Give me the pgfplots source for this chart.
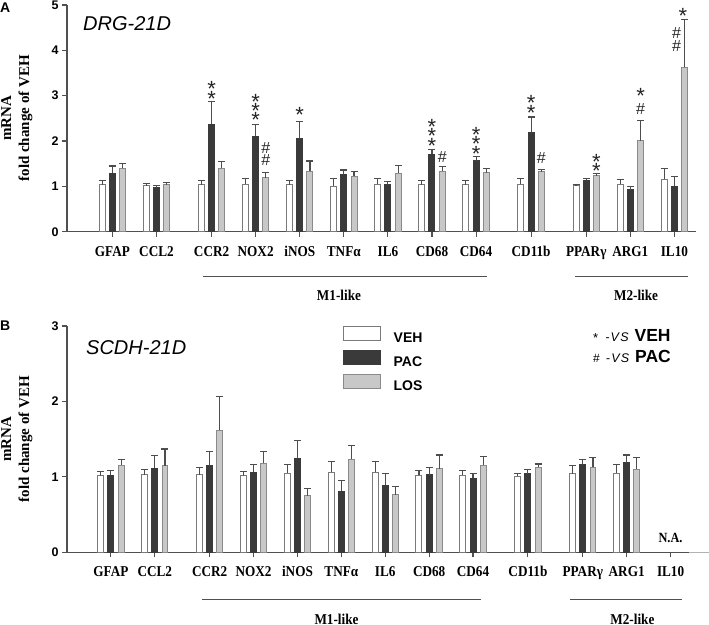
\documentclass[border=0pt]{standalone}
\usepackage{fontspec}
\setmainfont{Liberation Sans}
\newfontfamily\catfont{Liberation Serif}[FakeStretch=0.88]
\newfontfamily\labfont{Liberation Serif}
\usepackage{pgfplots}
\pgfplotsset{compat=1.18}
\definecolor{axisgray}{HTML}{505050}
\definecolor{pacfill}{HTML}{3A3A3A}
\definecolor{losfill}{HTML}{C8C8C8}
\definecolor{vehline}{HTML}{7A7A7A}
\definecolor{losline}{HTML}{8A8A8A}
\definecolor{errc}{HTML}{4D4D4D}
\pgfplotsset{
  mybase/.style={
    scale only axis, clip=false,
    ymin=0,
    axis x line=bottom, axis y line=left,
    axis line style={-, draw=axisgray, line width=1.3pt},
    tick align=outside, major tick length=5pt,
    tick style={draw=axisgray, line width=1.1pt},
    xtick={0,1,2.25,3.25,4.25,5.25,6.25,7.25,8.25,9.5,10.75,11.75,12.75},
    xticklabels={GFAP,CCL2,CCR2,NOX2,iNOS,TNFα,IL6,CD68,CD64,CD11b,PPARγ,ARG1,IL10},
    xticklabel style={font=\catfont\bfseries\fontsize{15}{15}\selectfont, anchor=base, yshift=-19.5pt},
    yticklabel style={font=\bfseries\fontsize{12.5}{12.5}\selectfont},
    /pgf/number format/assume math mode=true,
    ylabel={mRNA\\fold change of VEH},
    ylabel style={font=\labfont\bfseries\fontsize{15}{18}\selectfont, align=center, anchor=south, inner sep=0pt},
    error bars/y dir=plus, error bars/y explicit,
    error bars/error bar style={line width=1.1pt, draw=errc},
    error bars/error mark options={rotate=90, mark size=3.5pt, line width=1.1pt, draw=errc},
  },
  veh/.style={ybar, bar width=0.135, bar shift=0, fill=white, draw=vehline, line width=1pt},
  pac/.style={ybar, bar width=0.135, bar shift=0, fill=pacfill, draw=pacfill, line width=1pt},
  los/.style={ybar, bar width=0.135, bar shift=0, fill=losfill, draw=losline, line width=1pt},
  star/.style={forget plot, only marks, mark=text, text mark={*}, text mark as node=true, color=black!85,
    text mark style={font=\fontsize{22}{22}\selectfont, anchor=base, yshift=-12.6pt, inner sep=0pt}},
  hash/.style={forget plot, only marks, mark=text, text mark={\#}, text mark as node=true, color=black!85,
    text mark style={font=\fontsize{16}{16}\selectfont, anchor=center, inner sep=0pt}},
}
\begin{document}
\begin{tikzpicture}
\path[use as bounding box] (0,0) rectangle (709pt,624pt);
% ---------------- Panel A ----------------
\begin{axis}[mybase, at={(67pt,392.3pt)}, anchor=south west,
  width=629pt, height=226.7pt, xmin=-1.03, xmax=13.24, ymax=5, ytick={0,1,2,3,4,5},
  ylabel style={at={(axis description cs:-0.0545,0.5)}}]
\addplot[veh] coordinates {
 (-0.232,1.04) +- (0,0.09) (0.768,1.01) +- (0,0.05) (2.018,1.03) +- (0,0.09)
 (3.018,1.05) +- (0,0.12) (4.018,1.03) +- (0,0.09) (5.018,1.00) +- (0,0.18)
 (6.018,1.05) +- (0,0.13) (7.018,1.03) +- (0,0.10) (8.018,1.03) +- (0,0.10)
 (9.268,1.05) +- (0,0.13) (10.518,1.01) +- (0,0.03) (11.518,1.05) +- (0,0.10)
 (12.518,1.16) +- (0,0.23)};
\addplot[pac] coordinates {
 (0,1.29) +- (0,0.16) (1,0.97) +- (0,0.05) (2.25,2.37) +- (0,0.50)
 (3.25,2.11) +- (0,0.26) (4.25,2.05) +- (0,0.38) (5.25,1.26) +- (0,0.10)
 (6.25,1.04) +- (0,0.06) (7.25,1.71) +- (0,0.11) (8.25,1.57) +- (0,0.08)
 (9.5,2.18) +- (0,0.35) (10.75,1.14) +- (0,0.04) (11.75,0.92) +- (0,0.07)
 (12.75,1.00) +- (0,0.22)};
\addplot[los] coordinates {
 (0.232,1.40) +- (0,0.11) (1.232,1.03) +- (0,0.05) (2.482,1.40) +- (0,0.14)
 (3.482,1.19) +- (0,0.11) (4.482,1.33) +- (0,0.23) (5.482,1.22) +- (0,0.10)
 (6.482,1.29) +- (0,0.17) (7.482,1.33) +- (0,0.10) (8.482,1.30) +- (0,0.09)
 (9.732,1.32) +- (0,0.06) (10.982,1.23) +- (0,0.05) (11.982,2.01) +- (0,0.45)
 (12.982,3.63) +- (0,1.05)};
\addplot[star] coordinates {
 (2.25,3.03) (2.25,3.27)
 (3.25,2.57) (3.25,2.77) (3.25,2.98)
 (4.25,2.68)
 (7.25,2.01) (7.25,2.22) (7.25,2.43)
 (8.25,1.83) (8.25,2.04) (8.25,2.24)
 (9.5,2.74) (9.5,2.94)
 (10.982,1.46) (10.982,1.65)
 (11.982,3.11)
 (12.94,4.87)};
\addplot[hash] coordinates {
 (3.482,1.58) (3.482,1.85)
 (7.482,1.65)
 (9.732,1.62)
 (11.982,2.71)
 (12.80,4.10) (12.80,4.375)};
\draw[line width=1pt, draw=axisgray] ([yshift=-45pt]axis cs:2.06,0) -- ([yshift=-45pt]axis cs:8.50,0);
\draw[line width=1pt, draw=axisgray] ([yshift=-45pt]axis cs:10.49,0) -- ([yshift=-45pt]axis cs:13.06,0);
\node[font=\catfont\bfseries\fontsize{15}{15}\selectfont] at ([yshift=-64pt]axis cs:5.14,0) {M1-like};
\node[font=\catfont\bfseries\fontsize{15}{15}\selectfont] at ([yshift=-64pt]axis cs:11.88,0) {M2-like};
\end{axis}
% ---------------- Panel B ----------------
\begin{axis}[mybase, at={(67pt,71.7pt)}, anchor=south west,
  width=622pt, height=226.3pt, xmin=-1.0, xmax=13.17, ymax=3, ytick={0,1,2,3},
  ylabel style={at={(axis description cs:-0.0551,0.5)}},
  legend style={at={(axis description cs:0.4437,1.0)}, anchor=north west, draw=none, fill=none,
    inner sep=0pt, outer sep=0pt, row sep=6pt, column sep=12.7pt, nodes={inner sep=0pt},
    font=\bfseries\fontsize{14}{14}\selectfont},
  legend cell align=left,
  legend image code/.code={\draw[#1] (0pt,-2pt) rectangle (37pt,12pt);}]
\addplot[veh] coordinates {
 (-0.232,1.015) +- (0,0.055) (0.768,1.03) +- (0,0.07) (2.018,1.03) +- (0,0.09)
 (3.018,1.015) +- (0,0.055) (4.018,1.05) +- (0,0.115) (5.018,1.06) +- (0,0.14)
 (6.018,1.06) +- (0,0.14) (7.018,1.02) +- (0,0.07) (8.018,1.02) +- (0,0.06)
 (9.268,1.01) +- (0,0.03) (10.518,1.04) +- (0,0.11) (11.518,1.05) +- (0,0.115)};
\addlegendentry{VEH}
\addplot[pac] coordinates {
 (0,1.02) +- (0,0.07) (1,1.116) +- (0,0.164) (2.25,1.15) +- (0,0.19)
 (3.25,1.06) +- (0,0.10) (4.25,1.25) +- (0,0.23) (5.25,0.81) +- (0,0.14)
 (6.25,0.89) +- (0,0.15) (7.25,1.03) +- (0,0.09) (8.25,0.98) +- (0,0.07)
 (9.5,1.04) +- (0,0.06) (10.75,1.16) +- (0,0.07) (11.75,1.19) +- (0,0.10)};
\addlegendentry{PAC}
\addplot[los] coordinates {
 (0.232,1.156) +- (0,0.074) (1.232,1.15) +- (0,0.22) (2.482,1.62) +- (0,0.44)
 (3.482,1.18) +- (0,0.16) (4.482,0.75) +- (0,0.09) (5.482,1.235) +- (0,0.185)
 (6.482,0.76) +- (0,0.11) (7.482,1.11) +- (0,0.18) (8.482,1.156) +- (0,0.114)
 (9.732,1.13) +- (0,0.04) (10.982,1.13) +- (0,0.13) (11.982,1.10) +- (0,0.16)};
\addlegendentry{LOS}
\draw[line width=1pt, draw=axisgray] ([yshift=-46.7pt]axis cs:2.07,0) -- ([yshift=-46.7pt]axis cs:8.44,0);
\draw[line width=1pt, draw=axisgray] ([yshift=-46.7pt]axis cs:10.46,0) -- ([yshift=-46.7pt]axis cs:13.02,0);
\node[font=\catfont\bfseries\fontsize{15}{15}\selectfont] at ([yshift=-66.7pt]axis cs:5.14,0) {M1-like};
\node[font=\catfont\bfseries\fontsize{15}{15}\selectfont] at ([yshift=-66.7pt]axis cs:11.88,0) {M2-like};
\node[font=\catfont\bfseries\fontsize{14}{14}\selectfont] at ([yshift=14.8pt]axis cs:12.75,0) {N.A.};
\end{axis}
\draw[line width=1.3pt, draw=black!30] (689pt,71.7pt) -- (709pt,71.7pt);
% panel letters and titles
\node[font=\bfseries\fontsize{14}{14}\selectfont, anchor=west, inner sep=0pt] at (0pt,616pt) {A};
\node[font=\bfseries\fontsize{14}{14}\selectfont, anchor=west, inner sep=0pt] at (0pt,298pt) {B};
\node[font=\itshape\fontsize{20}{20}\selectfont, anchor=base west, inner sep=0pt] at (83pt,593.3pt) {DRG-21D};
\node[font=\itshape\fontsize{20}{20}\selectfont, anchor=base west, inner sep=0pt] at (86pt,269pt) {SCDH-21D};
% significance key
\node[anchor=base west, inner sep=0pt] at (593pt,282.5pt) {{\fontsize{13}{13}\selectfont\raisebox{-1.5pt}{*}}\hspace{7pt}{\itshape\fontsize{12.5}{12.5}\selectfont\addfontfeature{LetterSpace=10}-VS}\hspace{6pt}{\bfseries\fontsize{17.5}{17.5}\selectfont VEH}};
\node[anchor=base west, inner sep=0pt] at (593pt,261.5pt) {{\fontsize{12}{12}\selectfont\#}\hspace{6pt}{\itshape\fontsize{12.5}{12.5}\selectfont\addfontfeature{LetterSpace=10}-VS}\hspace{6pt}{\bfseries\fontsize{17.5}{17.5}\selectfont PAC}};
\end{tikzpicture}
\end{document}
